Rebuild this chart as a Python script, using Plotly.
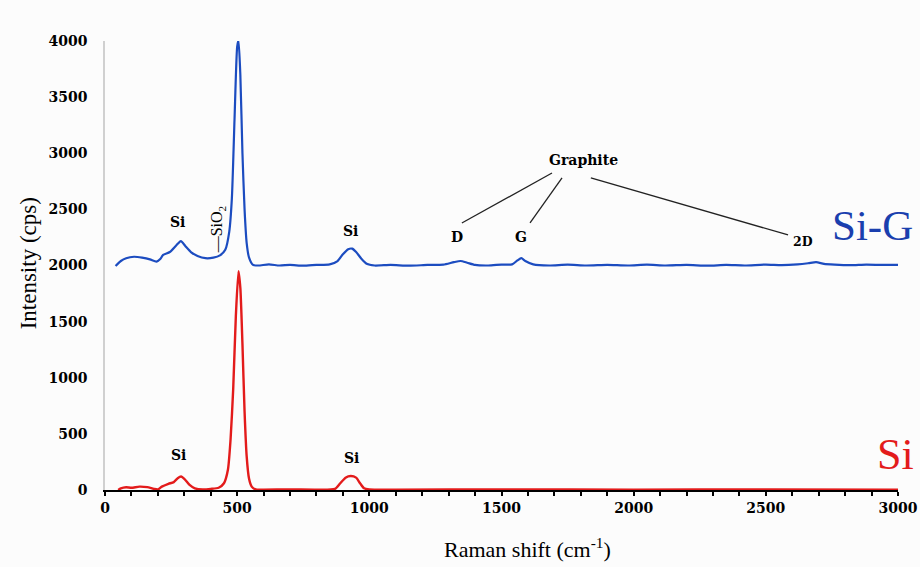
import plotly.graph_objects as go

# Si-G spectrum (blue), Raman shift (cm-1) vs intensity (cps)
sig_x = [40, 60, 80, 110, 140, 170, 195, 210, 220, 245, 270, 287, 305, 325, 350, 380, 410, 435, 455, 470,
         480, 490, 500, 505, 512, 520, 528, 536, 545, 560, 580, 620, 660, 700, 750, 800, 850, 880, 900, 920,
         935, 950, 970, 990, 1020, 1080, 1150, 1220, 1280, 1320, 1345, 1370, 1400, 1450, 1500, 1540, 1560,
         1575, 1590, 1620, 1680, 1750, 1820, 1900, 1980, 2050, 2120, 2200, 2280, 2350, 2420, 2500, 2560,
         2620, 2660, 2690, 2720, 2760, 2820, 2880, 2940, 3000]
sig_y = [1995, 2040, 2065, 2078, 2070, 2055, 2035, 2060, 2095, 2120, 2180, 2218, 2170, 2120, 2085, 2065, 2070,
         2090, 2140, 2300, 2600, 3300, 3950, 4005, 3700, 3000, 2500, 2200, 2070, 2005, 2000, 2010, 2000, 2005,
         1998, 2005, 2010, 2040, 2100, 2145, 2150, 2120, 2060, 2015, 2000, 2005, 1998, 2005, 2008, 2030, 2040,
         2025, 2005, 2000, 2008, 2010, 2045, 2065, 2040, 2010, 2000, 2008, 2000, 2005, 2000, 2008, 2000, 2005,
         1998, 2005, 2000, 2008, 2003, 2010, 2020, 2030, 2015, 2008, 2003, 2008, 2005, 2005]

# Si spectrum (red)
si_x = [50, 60, 80, 100, 130, 160, 185, 200, 215, 240, 260, 275, 288, 300, 320, 340, 370, 400, 430, 450, 465,
        475, 485, 495, 505, 512, 520, 528, 536, 545, 555, 570, 600, 700, 800, 870, 890, 910, 930, 950, 965, 980,
        1000, 1100, 1500, 2000, 2500, 3000]
si_y = [0, 15, 25, 20, 30, 25, 10, 5, 30, 55, 70, 105, 120, 100, 45, 15, 5, 10, 20, 60, 180, 450, 900, 1550,
        1950, 1800, 1300, 700, 300, 100, 30, 5, 3, 5, 3, 10, 60, 110, 125, 110, 60, 15, 5, 3, 5, 3, 5, 3]

x_ticks = [0, 500, 1000, 1500, 2000, 2500, 3000]
y_ticks = [0, 500, 1000, 1500, 2000, 2500, 3000, 3500, 4000]
x_title = "Raman shift (cm<sup>-1</sup>)"
y_title = "Intensity (cps)"

SERIF = "Liberation Serif"
BSERIF = "DejaVu Serif"
BLUE = "#1c4cc0"
RED = "#e31b1b"

fig = go.Figure()
fig.add_trace(go.Scatter(x=sig_x, y=sig_y, mode="lines", line=dict(color=BLUE, width=2.2, shape="spline", smoothing=0.6),
                         name="Si-G", showlegend=False))
fig.add_trace(go.Scatter(x=si_x, y=si_y, mode="lines", line=dict(color=RED, width=2.4, shape="spline", smoothing=0.6),
                         name="Si", showlegend=False))

def label(x, y, text, size=14, color="black", family=BSERIF, weight="bold", angle=0):
    fig.add_annotation(x=x, y=y, text=text, showarrow=False, textangle=angle,
                       font=dict(family=family, size=size, color=color, weight=weight),
                       xanchor="center", yanchor="middle")

label(500, 4169, "Si")
label(276, 2388, "Si")
label(425, 2325, "—SiO<sub>2</sub>", size=16, family=SERIF, weight="normal", angle=-90)
label(927, 2307, "Si")
label(1332, 2254, "D")
label(1574, 2254, "G")
label(2641, 2218, "2D", size=12.5)
label(1812, 2940, "Graphite", size=14)
label(277, 312, "Si")
label(934, 285, "Si")
label(2902, 2352, "Si-G", size=43, color="#1a3fae", family=SERIF, weight="normal")
label(2992, 312, "Si", size=44, color=RED, family=SERIF, weight="normal")

# axis titles
fig.add_annotation(xref="paper", yref="paper", x=0.533, y=-0.129, text=x_title, showarrow=False,
                   font=dict(family=SERIF, size=22, color="black"), xanchor="center", yanchor="middle")
fig.add_annotation(xref="paper", yref="paper", x=-0.097, y=0.505, text=y_title, showarrow=False, textangle=-90,
                   font=dict(family=SERIF, size=23, color="black"), xanchor="center", yanchor="middle")

for (x0, y0, x1, y1) in [(1691, 2824, 1350, 2379), (1729, 2780, 1608, 2379), (1838, 2780, 2584, 2272)]:
    fig.add_shape(type="line", x0=x0, y0=y0, x1=x1, y1=y1, xref="x", yref="y",
                  line=dict(color="#222222", width=1.3))

fig.update_layout(
    width=920, height=567,
    margin=dict(l=105, r=22, t=41, b=77),
    paper_bgcolor="#fcfcfc", plot_bgcolor="#fcfcfc",
    font=dict(family=SERIF, color="black"),
    xaxis=dict(range=[0, 3000], tickvals=x_ticks, automargin=False,
               showgrid=False, zeroline=False, showline=True, linecolor="black", linewidth=2,
               ticks="outside", ticklen=4, tickwidth=2, tickcolor="black",
               minor=dict(dtick=100, ticks="outside", ticklen=4, tickwidth=2, tickcolor="black"),
               tickfont=dict(family=BSERIF, size=14, color="black", weight="bold")),
    yaxis=dict(range=[0, 4000], tickvals=y_ticks, automargin=False,
               showgrid=False, zeroline=False, showline=True, linecolor="#d0d0d0", linewidth=1.5,
               ticks="outside", ticklen=13, tickcolor="rgba(0,0,0,0)",
               tickfont=dict(family=BSERIF, size=14, color="black", weight="bold")),
)

fig.write_html("out.html")
